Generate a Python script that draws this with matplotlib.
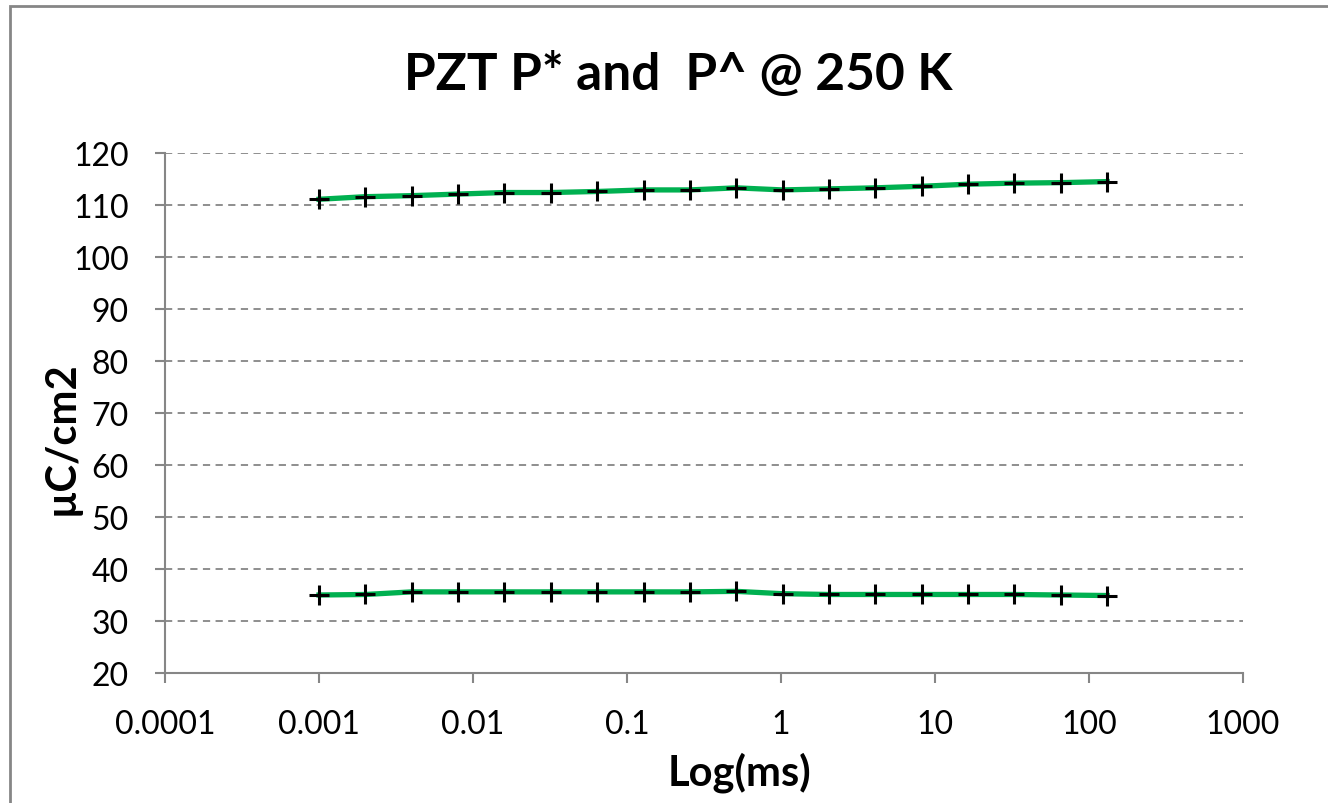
import numpy as np
import matplotlib.pyplot as plt
from matplotlib.patches import Rectangle

plt.rcParams['font.family'] = ['Lato', 'DejaVu Sans']

# time points (ms), doubling from 1 us
t_ms = [0.001, 0.002, 0.004, 0.008, 0.016, 0.032, 0.064, 0.128, 0.256,
        0.512, 1.024, 2.048, 4.096, 8.192, 16.384, 32.768, 65.536, 131.072]

# P* (upper) and P^ (lower), uC/cm2
p_star = [111.1, 111.6, 111.8, 112.1, 112.4, 112.4, 112.6, 112.9, 112.9,
          113.3, 112.9, 113.1, 113.3, 113.6, 114.0, 114.2, 114.3, 114.5]
p_hat = [35.0, 35.1, 35.6, 35.6, 35.6, 35.6, 35.6, 35.6, 35.6,
         35.7, 35.25, 35.1, 35.1, 35.1, 35.1, 35.1, 35.0, 34.9]

xticks = [0.0001, 0.001, 0.01, 0.1, 1, 10, 100, 1000]
xticklabels = ['0.0001', '0.001', '0.01', '0.1', '1', '10', '100', '1000']
yticks = list(range(20, 121, 10))

gray = '#868686'
green = '#00B050'

fig = plt.figure(figsize=(13.28, 8.04), dpi=100)
fig.patches.append(Rectangle((10/1328, -0.01), 1.1, 1 - 7/804 + 0.01,
                             transform=fig.transFigure, fill=False,
                             edgecolor=gray, lw=2))

ax = fig.add_axes([165/1328, 1 - 674/804, (1243 - 165)/1328, (674 - 154)/804])

for y in [p_star, p_hat]:
    ax.plot(t_ms, y, color=green, lw=3.8, zorder=3)
    ax.plot(t_ms, y, ls='none', marker='+', color='black', ms=14, mew=2.2, zorder=4)

ax.set_xscale('log')
ax.set_xlim(0.0001, 1000)
ax.set_ylim(20, 120)
ax.set_xticks(xticks)
ax.set_xticklabels(xticklabels)
ax.minorticks_off()
ax.set_yticks(yticks)

for y in yticks[1:]:
    ax.axhline(y, color=gray, lw=1.3, ls=(0, (4, 3)), zorder=1)

for s in ['top', 'right']:
    ax.spines[s].set_visible(False)
for s in ['left', 'bottom']:
    ax.spines[s].set_color(gray)
    ax.spines[s].set_linewidth(1.5)

ax.tick_params(axis='both', colors=gray, length=7, width=1.5, labelcolor='black',
               labelsize=23)
ax.tick_params(axis='x', pad=19)
ax.tick_params(axis='y', pad=19)

ax.set_xlabel('Log(ms)', fontsize=30, fontweight='bold', va='center', ha='center')
ax.xaxis.set_label_coords(0.533, -0.19)
fig.text(62/1328, 1 - 438/804, 'µC/cm2', rotation=90, ha='center', va='center',
         fontsize=30, fontweight='bold')
fig.text(678/1328, 1 - 75/804, 'PZT P* and  P^ @ 250 K', ha='center', va='center',
         fontsize=37, fontweight='bold')

plt.savefig('out.png', dpi=100)
